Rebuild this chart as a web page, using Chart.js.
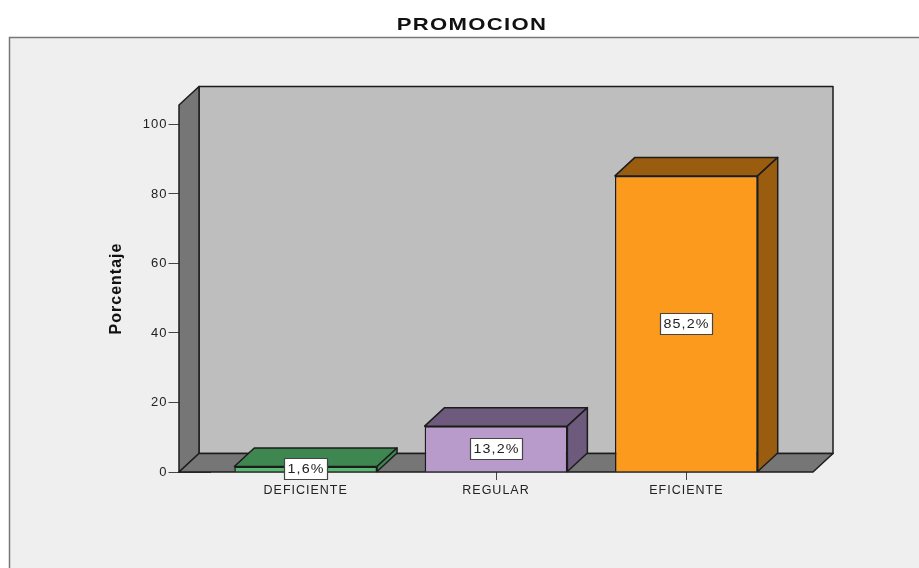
<!DOCTYPE html>
<html>
<head>
<meta charset="utf-8">
<style>html,body{margin:0;padding:0;background:#fff}canvas{display:block}</style>
<script src="https://cdn.jsdelivr.net/npm/chart.js@4/dist/chart.umd.min.js"></script>
</head>
<body>
<div style="width:919px;height:568px"><canvas id="c" width="919" height="568"></canvas></div>
<script>
const chartTitle = 'PROMOCION';
const yAxisTitle = 'Porcentaje';
const categories = ['DEFICIENTE', 'REGULAR', 'EFICIENTE'];
const percentages = [1.6, 13.2, 85.2];
const tickValues = [0, 20, 40, 60, 80, 100];
const frontColors = ['#58ba70', '#b99bcb', '#fb9a1d'];
const shadeColors = ['#3f8750', '#6d5a7c', '#9a5d10'];

const DEPTH_X = 20, DEPTH_Y = 18.5, WALL_MARGIN = 31.5;
const OUTLINE = '#1c1c1c';
const TITLE_CENTER = 472, TITLE_STRETCH = 1.3, LABEL_STRETCH = 1.1;

function poly(ctx, pts, fill) {
  ctx.beginPath();
  pts.forEach((p, i) => i ? ctx.lineTo(p[0], p[1]) : ctx.moveTo(p[0], p[1]));
  ctx.closePath();
  ctx.fillStyle = fill;
  ctx.fill();
  ctx.lineJoin = 'round';
  ctx.lineWidth = 1.5;
  ctx.strokeStyle = OUTLINE;
  ctx.stroke();
}

// Panel behind everything, open at the right and bottom edges
const panel = {
  id: 'panel',
  afterLayout(chart) {
    // Re-centre the title over the panel and widen its lettering
    const t = chart.titleBlock;
    t.left = TITLE_CENTER - 447;
    t.right = TITLE_CENTER + 447;
    const draw = t.draw;
    t.draw = function () {
      const c = this.ctx;
      c.save();
      c.translate(TITLE_CENTER, 0);
      c.scale(TITLE_STRETCH, 1);
      c.translate(-TITLE_CENTER, 0);
      draw.call(this);
      c.restore();
    };
  },
  beforeDraw(chart) {
    const ctx = chart.ctx;
    ctx.letterSpacing = '1px';
    ctx.save();
    ctx.fillStyle = '#efefef';
    ctx.fillRect(9, 37, 910, 531);
    ctx.strokeStyle = '#777';
    ctx.lineWidth = 1.5;
    ctx.beginPath();
    ctx.moveTo(9.5, 568); ctx.lineTo(9.5, 37.5); ctx.lineTo(919, 37.5);
    ctx.stroke();
    ctx.restore();
  }
};

// Box walls and floor, drawn over the inner part of the axis ticks
const walls = {
  id: 'walls',
  beforeDatasetsDraw(chart) {
    const { ctx, chartArea: a } = chart;
    const l = a.left - WALL_MARGIN, r = a.right + WALL_MARGIN, t = a.top, b = a.bottom;
    ctx.save();
    poly(ctx, [[l + DEPTH_X, t - DEPTH_Y], [r + DEPTH_X, t - DEPTH_Y], [r + DEPTH_X, b - DEPTH_Y], [l + DEPTH_X, b - DEPTH_Y]], '#bebebe');
    poly(ctx, [[l, t], [l + DEPTH_X, t - DEPTH_Y], [l + DEPTH_X, b - DEPTH_Y], [l, b]], '#767676');
    poly(ctx, [[l, b], [l + DEPTH_X, b - DEPTH_Y], [r + DEPTH_X, b - DEPTH_Y], [r, b]], '#767676');
    ctx.restore();
  }
};

// Top and side of each bar, taken from the bar elements, plus the value boxes
const barDepth = {
  id: 'barDepth',
  afterDatasetsDraw(chart) {
    const ctx = chart.ctx;
    const bars = chart.getDatasetMeta(0).data;
    ctx.save();
    bars.forEach((bar, i) => {
      const half = bar.width / 2, x0 = bar.x - half, x1 = bar.x + half, y = bar.y, base = bar.base;
      poly(ctx, [[x0, y], [x0 + DEPTH_X, y - DEPTH_Y], [x1 + DEPTH_X, y - DEPTH_Y], [x1, y]], shadeColors[i]);
      poly(ctx, [[x1, y], [x1 + DEPTH_X, y - DEPTH_Y], [x1 + DEPTH_X, base - DEPTH_Y], [x1, base]], shadeColors[i]);
    });
    ctx.font = '13px "Liberation Sans"';
    ctx.textAlign = 'center';
    ctx.textBaseline = 'middle';
    bars.forEach((bar, i) => {
      const text = percentages[i].toFixed(1).replace('.', ',') + '%';
      const cy = Math.min((bar.y + bar.base) / 2, bar.base - 2.5);
      const w = Math.round(ctx.measureText(text).width * LABEL_STRETCH) + 6, h = 21;
      const bx = Math.round(bar.x - w / 2) + 0.5, by = Math.round(cy - h / 2) + 0.5;
      ctx.fillStyle = '#fff';
      ctx.fillRect(bx, by, w, h);
      ctx.strokeStyle = '#444';
      ctx.lineWidth = 1.2;
      ctx.strokeRect(bx, by, w, h);
      ctx.fillStyle = '#222';
      ctx.save();
      ctx.translate(bx + w / 2, cy + 0.5);
      ctx.scale(LABEL_STRETCH, 1);
      ctx.fillText(text, 0, 0);
      ctx.restore();
    });
    ctx.restore();
  }
};

new Chart(document.getElementById('c'), {
  type: 'bar',
  data: {
    labels: categories,
    datasets: [{
      data: percentages,
      backgroundColor: frontColors,
      borderColor: OUTLINE,
      borderWidth: 1.5,
      categoryPercentage: 1,
      barPercentage: 0.75
    }]
  },
  plugins: [panel, walls, barDepth],
  options: {
    responsive: false,
    animation: false,
    layout: { padding: { top: 0, right: 137.5, bottom: 0, left: 0 } },
    plugins: {
      legend: { display: false },
      tooltip: { enabled: false },
      title: {
        display: true,
        text: chartTitle,
        color: '#111',
        font: { family: 'Liberation Sans', size: 17, weight: 'bold', lineHeight: 1.2 },
        padding: { top: 15, bottom: 69.6 }
      }
    },
    scales: {
      x: {
        afterFit(s) { s.height = 96; },
        grid: { offset: false, drawOnChartArea: false, tickLength: 8, tickColor: '#444', tickWidth: 1 },
        border: { display: false },
        ticks: {
          color: '#222',
          padding: 3,
          maxRotation: 0,
          font: { family: 'Liberation Sans', size: 12.5 }
        }
      },
      y: {
        min: 0,
        max: 105.6,
        afterFit(s) { s.width = 210.5; },
        afterBuildTicks(s) { s.ticks = tickValues.map(value => ({ value })); },
        border: { display: false },
        grid: { drawOnChartArea: false, tickLength: 42, tickColor: '#444', tickWidth: 1 },
        ticks: {
          color: '#222',
          padding: 1,
          font: { family: 'Liberation Sans', size: 13 }
        },
        title: {
          display: true,
          text: yAxisTitle,
          color: '#111',
          font: { family: 'Liberation Sans', size: 16, weight: 'bold', lineHeight: 1.2 },
          padding: { top: 107, bottom: 0 }
        }
      }
    }
  }
});
</script>
</body>
</html>
